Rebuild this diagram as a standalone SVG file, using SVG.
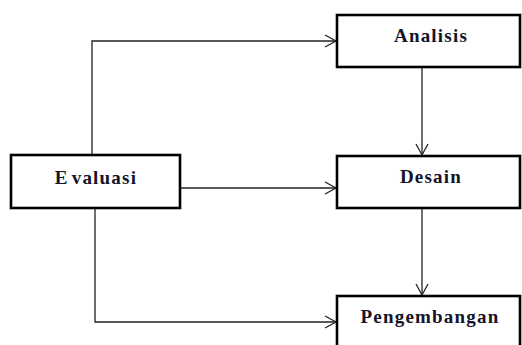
<svg xmlns="http://www.w3.org/2000/svg" width="522" height="345" viewBox="0 0 522 345">
<defs>
<style>
.box{fill:#fff;stroke:#000;stroke-width:2.6}
.lbl{font-family:"Liberation Serif","Times New Roman",serif;font-weight:bold;font-size:19px;letter-spacing:1.2px;fill:#14142a;text-anchor:middle}
.conn{fill:none;stroke:#222;stroke-width:1.3}
</style>
<marker id="arr" markerUnits="userSpaceOnUse" markerWidth="14" markerHeight="14" viewBox="-12 -7 14 14" refX="0" refY="0" orient="auto">
<path d="M-11,-6 L0,0 L-11,6" fill="none" stroke="#222" stroke-width="1.3"/>
</marker>
</defs>
<rect width="522" height="345" fill="#fff"/>
<g id="connectors">
<path class="conn" d="M92,155 V41 H336" marker-end="url(#arr)"/>
<path class="conn" d="M180,188 H336" marker-end="url(#arr)"/>
<path class="conn" d="M95,208 V322 H336" marker-end="url(#arr)"/>
<path class="conn" d="M422,67 V155" marker-end="url(#arr)"/>
<path class="conn" d="M422,208 V295" marker-end="url(#arr)"/>
</g>
<g id="evaluasi">
<rect class="box" x="11" y="155" width="169" height="53"/>
<text class="lbl" x="96" y="184" letter-spacing="2">E<tspan dx="3">valuasi</tspan></text>
</g>
<g id="analisis">
<rect class="box" x="337" y="15" width="183" height="52"/>
<text class="lbl" x="431" y="42">Analisis</text>
</g>
<g id="desain">
<rect class="box" x="337" y="156" width="183" height="52"/>
<text class="lbl" x="431" y="183">Desain</text>
</g>
<g id="pengembangan">
<rect class="box" x="337" y="296" width="183" height="60"/>
<text class="lbl" x="430" y="323">Pengembangan</text>
</g>
</svg>
